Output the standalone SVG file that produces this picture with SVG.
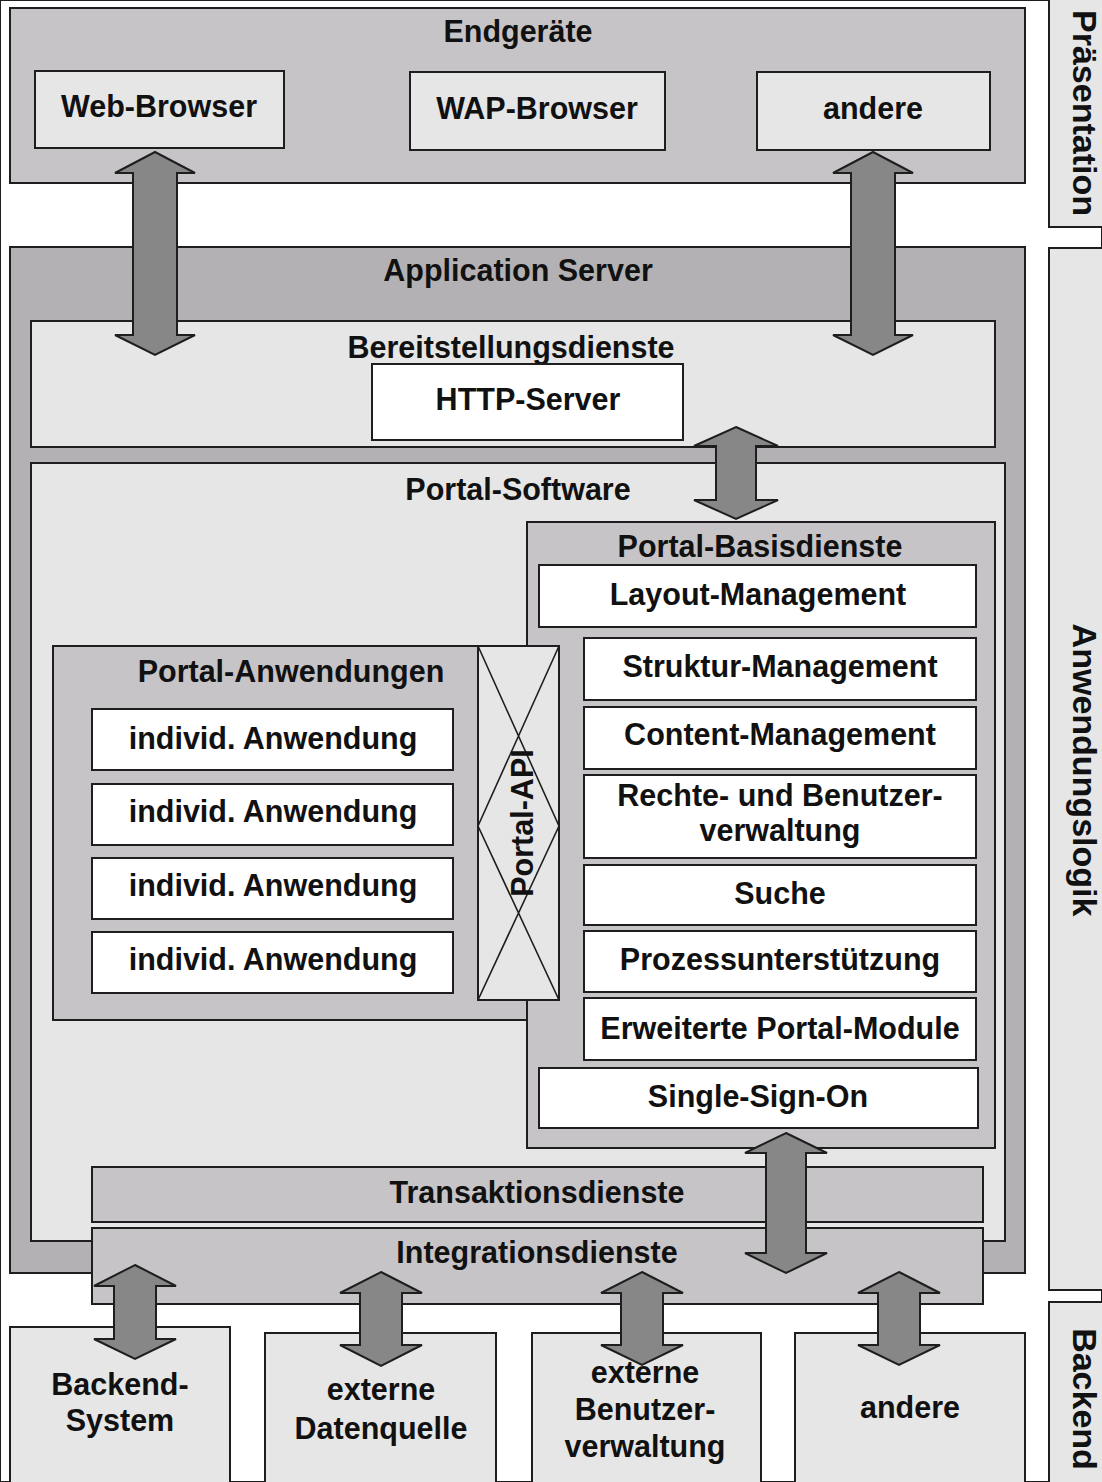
<svg xmlns="http://www.w3.org/2000/svg" width="1102" height="1482" viewBox="0 0 1102 1482">
<style>
rect{stroke:#1e1e1e;stroke-width:2}
.g1{fill:#c6c4c7}
.g2{fill:#b3b1b4}
.lt{fill:#e6e6e6}
.wh{fill:#ffffff}
.arrow{fill:#878787;stroke:#1e1e1e;stroke-width:2;stroke-linejoin:miter}
text{font-family:"Liberation Sans",Arial,sans-serif;font-weight:bold;font-size:30.5px;fill:#111;text-anchor:middle}
.side{font-size:34px}
.x{stroke:#1e1e1e;stroke-width:1.6;fill:none}
</style>
<rect x="0" y="0" width="1102" height="1482" fill="#ffffff" stroke="none"/>

<g id="side-praesentation"><rect class="lt" x="1049" y="-5" width="60" height="232"/><text class="side" transform="translate(1073,113) rotate(90)">Präsentation</text></g>
<g id="side-anwendungslogik"><rect class="lt" x="1049" y="248" width="60" height="1042"/><text class="side" transform="translate(1073,770) rotate(90)">Anwendungslogik</text></g>
<g id="side-backend"><rect class="lt" x="1049" y="1302" width="60" height="190"/><text class="side" transform="translate(1073,1399) rotate(90)">Backend</text></g>

<g id="endgeraete"><rect class="g1" x="10" y="8" width="1015" height="175"/><text x="518" y="42">Endgeräte</text></g>
<g id="web-browser"><rect class="lt" x="35" y="71" width="249" height="77"/><text x="159" y="117">Web-Browser</text></g>
<g id="wap-browser"><rect class="lt" x="410" y="72" width="255" height="78"/><text x="537" y="119">WAP-Browser</text></g>
<g id="andere-endgeraet"><rect class="lt" x="757" y="72" width="233" height="78"/><text x="873" y="119">andere</text></g>

<g id="application-server"><rect class="g2" x="10" y="247" width="1015" height="1026"/><text x="518" y="281">Application Server</text></g>
<g id="bereitstellungsdienste"><rect class="lt" x="31" y="321" width="964" height="126"/><text x="511" y="358">Bereitstellungsdienste</text></g>
<g id="http-server"><rect class="wh" x="372" y="364" width="311" height="76"/><text x="528" y="410">HTTP-Server</text></g>

<g id="portal-software"><rect class="lt" x="31" y="463" width="974" height="778"/><text x="518" y="500">Portal-Software</text></g>
<g id="portal-basisdienste"><rect class="g1" x="527" y="522" width="468" height="626"/><text x="760" y="557">Portal-Basisdienste</text></g>
<g id="layout-management"><rect class="wh" x="539" y="565" width="437" height="62"/><text x="758" y="605">Layout-Management</text></g>
<g id="struktur-management"><rect class="wh" x="584" y="638" width="392" height="62"/><text x="780" y="677">Struktur-Management</text></g>
<g id="content-management"><rect class="wh" x="584" y="707" width="392" height="62"/><text x="780" y="745">Content-Management</text></g>
<g id="rechte-benutzerverwaltung"><rect class="wh" x="584" y="775" width="392" height="83"/><text x="780" y="806">Rechte- und Benutzer-</text><text x="780" y="841">verwaltung</text></g>
<g id="suche"><rect class="wh" x="584" y="865" width="392" height="60"/><text x="780" y="904">Suche</text></g>
<g id="prozessunterstuetzung"><rect class="wh" x="584" y="931" width="392" height="61"/><text x="780" y="970">Prozessunterstützung</text></g>
<g id="erweiterte-portal-module"><rect class="wh" x="584" y="998" width="392" height="62"/><text x="780" y="1039">Erweiterte Portal-Module</text></g>
<g id="single-sign-on"><rect class="wh" x="539" y="1068" width="439" height="60"/><text x="758" y="1107">Single-Sign-On</text></g>

<g id="portal-anwendungen"><rect class="g1" x="53" y="646" width="474" height="374"/><text x="291" y="682">Portal-Anwendungen</text></g>
<g id="individ-anwendung-1"><rect class="wh" x="92" y="709" width="361" height="61"/><text x="273" y="749">individ. Anwendung</text></g>
<g id="individ-anwendung-2"><rect class="wh" x="92" y="784" width="361" height="61"/><text x="273" y="822">individ. Anwendung</text></g>
<g id="individ-anwendung-3"><rect class="wh" x="92" y="858" width="361" height="61"/><text x="273" y="896">individ. Anwendung</text></g>
<g id="individ-anwendung-4"><rect class="wh" x="92" y="932" width="361" height="61"/><text x="273" y="970">individ. Anwendung</text></g>

<g id="portal-api"><rect class="lt" x="478" y="646" width="81" height="354"/>
<path class="x" d="M478,646 L559,826 M559,646 L478,826 M478,826 L559,1000 M559,826 L478,1000"/>
<text transform="translate(533,823) rotate(-90)">Portal-API</text></g>

<g id="transaktionsdienste"><rect class="g1" x="92" y="1167" width="891" height="55"/><text x="537" y="1203">Transaktionsdienste</text></g>
<g id="integrationsdienste"><rect class="g1" x="92" y="1228" width="891" height="76"/><text x="537" y="1263">Integrationsdienste</text></g>

<g id="backend-system"><rect class="lt" x="10" y="1327" width="220" height="165"/><text x="120" y="1395">Backend-</text><text x="120" y="1431">System</text></g>
<g id="externe-datenquelle"><rect class="lt" x="265" y="1333" width="231" height="159"/><text x="381" y="1400">externe</text><text x="381" y="1439">Datenquelle</text></g>
<g id="externe-benutzerverwaltung"><rect class="lt" x="532" y="1333" width="229" height="159"/><text x="645" y="1383">externe</text><text x="645" y="1420">Benutzer-</text><text x="645" y="1457">verwaltung</text></g>
<g id="andere-backend"><rect class="lt" x="795" y="1333" width="230" height="159"/><text x="910" y="1418">andere</text></g>

<g id="connectors">
<polygon class="arrow" points="155,152 195,173 177,173 177,335 195,335 155,355 115,335 133,335 133,173 115,173"/>
<polygon class="arrow" points="873,152 913,173 895,173 895,335 913,335 873,355 833,335 851,335 851,173 833,173"/>
<polygon class="arrow" points="736,427 778,446 756,446 756,500 778,500 736,519 694,500 716,500 716,446 694,446"/>
<polygon class="arrow" points="786,1133 827,1153 806,1153 806,1253 827,1253 786,1273 745,1253 766,1253 766,1153 745,1153"/>
<polygon class="arrow" points="135,1265 176,1286 156,1286 156,1339 176,1339 135,1359 94,1339 114,1339 114,1286 94,1286"/>
<polygon class="arrow" points="381,1272 422,1293 402,1293 402,1345 422,1345 381,1366 340,1345 360,1345 360,1293 340,1293"/>
<polygon class="arrow" points="642,1272 683,1293 663,1293 663,1345 683,1345 642,1365 601,1345 621,1345 621,1293 601,1293"/>
<polygon class="arrow" points="899,1272 940,1293 920,1293 920,1345 940,1345 899,1365 858,1345 878,1345 878,1293 858,1293"/>
</g>
</svg>
